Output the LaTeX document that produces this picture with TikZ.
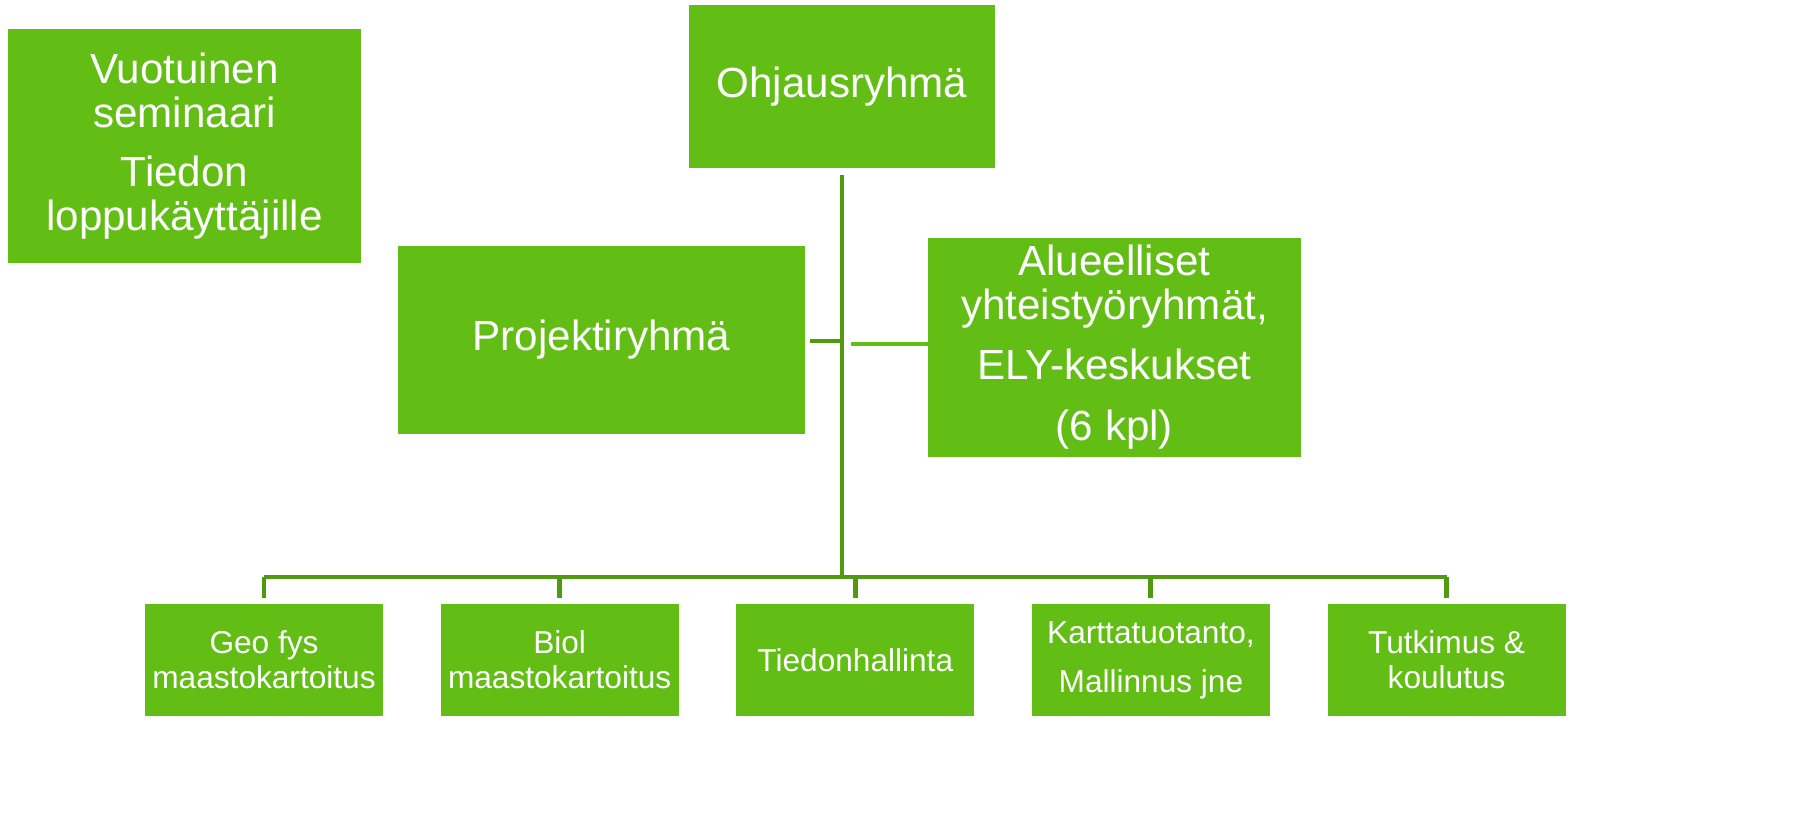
\documentclass[tikz,border=0pt]{standalone}
\usepackage{fontspec}
\setmainfont{Liberation Sans}
\usetikzlibrary{positioning}
\definecolor{boxgreen}{RGB}{98,190,21}
\definecolor{linegreen}{RGB}{79,154,15}
\tikzset{
	unit/.style={
		rectangle,
		fill=boxgreen,
		text=white,
		align=center,
		inner sep=2pt,
		font=\fontsize{24}{25}\selectfont,
	},
	team/.style={
		unit,
		minimum width=4.76cm,
		minimum height=2.24cm,
		font=\fontsize{18}{20}\selectfont,
	},
	link/.style={draw=linegreen, line width=2.8pt},
	stub/.style={draw=boxgreen, line width=2.8pt},
}

\begin{document}
\begin{tikzpicture}[x=0.02cm, y=-0.02cm, node distance=1.14cm]
\useasboundingbox (0,0) rectangle (1794,820);

\node	(seminar)	[unit, minimum width=7.06cm, minimum height=4.68cm]	at (184.5,146)	{Vuotuinen\\seminaari\\[9pt]Tiedon\\loppukäyttäjille};
\node	(steering)	[unit, minimum width=6.12cm, minimum height=3.26cm]	at (842,86.5)	{Ohjausryhmä};
\node	(project)	[unit, minimum width=8.14cm, minimum height=3.76cm]	at (601.5,340)	{Projektiryhmä};
\node	(regional)	[unit, minimum width=7.46cm, minimum height=4.38cm]	at (1114.5,347.5)	{Alueelliset\\yhteistyöryhmät,\\[9pt]ELY-keskukset\\[10pt](6 kpl)};

% bottom row
\node	(geo)		[team]	at (264,660)		{Geo fys\\maastokartoitus};
\node	(biol)		[team]	[right=of geo]		{Biol\\maastokartoitus};
\node	(data)		[team]	[right=of biol]		{Tiedonhallinta};
\node	(maps)		[team]	[right=of data]		{Karttatuotanto,\\[8pt]Mallinnus jne};
\node	(research)	[team]	[right=of maps]		{Tutkimus \&\\koulutus};

\coordinate (bar) at (842,577);
\path[link] ([yshift=-0.14cm]steering.south) -- (bar);
\path[link] (geo.north |- bar) -- (research.north |- bar);
\foreach \t in {geo,biol,data,maps,research}
	\path[link] (\t.north |- bar) -- ([yshift=0.12cm]\t.north);
\path[link] ([xshift=0.1cm,yshift=-0.02cm]project.east) -- ([yshift=-0.02cm]steering.south |- project.east);
\path[stub] ([yshift=0.07cm]regional.west) -- ++(-77,0);

\end{tikzpicture}
\end{document}
